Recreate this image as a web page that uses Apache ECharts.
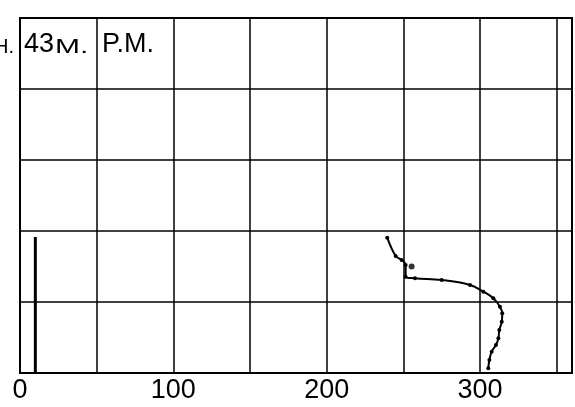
<!DOCTYPE html>
<html>
<head>
<meta charset="utf-8">
<script src="https://cdn.jsdelivr.net/npm/echarts@6/dist/echarts.min.js"></script>
<style>
  html, body { margin: 0; padding: 0; background: #fff; }
  #chart { width: 575px; height: 407px; }
</style>
</head>
<body>
<div id="chart"></div>
<script>
// Horizontal axis ticks (labels shown at every 100)
const xTicks = [0, 100, 200, 300];

// Traced profile: [x, height]
const profileX = [239.5, 245.0, 248.9, 251.5, 251.5, 257.6, 275.0, 293.5, 302.2, 308.7, 313.0, 314.5, 314.2, 312.6, 312.0, 310.4, 307.6, 306.1, 305.4];
const profileY = [1.906, 1.648, 1.592, 1.521, 1.356, 1.334, 1.310, 1.239, 1.145, 1.052, 0.934, 0.841, 0.723, 0.606, 0.488, 0.394, 0.300, 0.183, 0.066];

// Single loose observation beside the curve
const looseX = [255.4];
const looseY = [1.50];

// Reference bar at the left
const barX = [10, 10];
const barY = [0, 1.915];

const zip = (a, b) => a.map((v, i) => [v, b[i]]);

const chart = echarts.init(document.getElementById('chart'), null, { renderer: 'canvas' });

const titleFont = '"Liberation Sans", Arial, sans-serif';

chart.setOption({
  animation: false,
  backgroundColor: '#ffffff',
  grid: {
    left: 20, right: 2, top: 18, bottom: 34,
    show: true, borderColor: '#000', borderWidth: 2, backgroundColor: 'transparent'
  },
  xAxis: {
    type: 'value',
    min: 0, max: 360, interval: 50,
    axisLine: { show: true, lineStyle: { color: '#000', width: 2 } },
    axisTick: { show: false },
    splitLine: { show: true, lineStyle: { color: '#000', width: 1.5 } },
    axisLabel: {
      color: '#000',
      fontSize: 27,
      fontFamily: titleFont,
      margin: 4,
      formatter: v => (xTicks.indexOf(v) >= 0 ? String(v) : '')
    }
  },
  yAxis: {
    type: 'value',
    min: 0, max: 5, interval: 1,
    axisLine: { show: true, lineStyle: { color: '#000', width: 2 } },
    axisTick: { show: false },
    axisLabel: { show: false },
    splitLine: { show: true, lineStyle: { color: '#000', width: 1.5 } }
  },
  graphic: [
    { type: 'text', left: -6, top: 37, style: { text: 'H.', font: '20px ' + titleFont, fill: '#000' } },
    { type: 'text', left: 24, top: 31, style: { text: '43', font: '27px ' + titleFont, fill: '#000' } },
    { type: 'text', left: 55, top: 37, scaleX: 1.5, style: { text: 'M.', font: '20px ' + titleFont, fill: '#000' } },
    { type: 'text', left: 102, top: 31, style: { text: 'P.M.', font: '27px ' + titleFont, fill: '#000' } }
  ],
  series: [
    {
      type: 'line',
      data: zip(barX, barY),
      symbol: 'none',
      lineStyle: { color: '#000', width: 3 }
    },
    {
      type: 'line',
      data: zip(profileX, profileY),
      smooth: 0.4,
      symbol: 'circle',
      symbolSize: 4,
      itemStyle: { color: '#000' },
      lineStyle: { color: '#000', width: 2 }
    },
    {
      type: 'scatter',
      data: zip(looseX, looseY),
      symbolSize: 6,
      itemStyle: { color: '#000' }
    }
  ]
});
</script>
</body>
</html>
